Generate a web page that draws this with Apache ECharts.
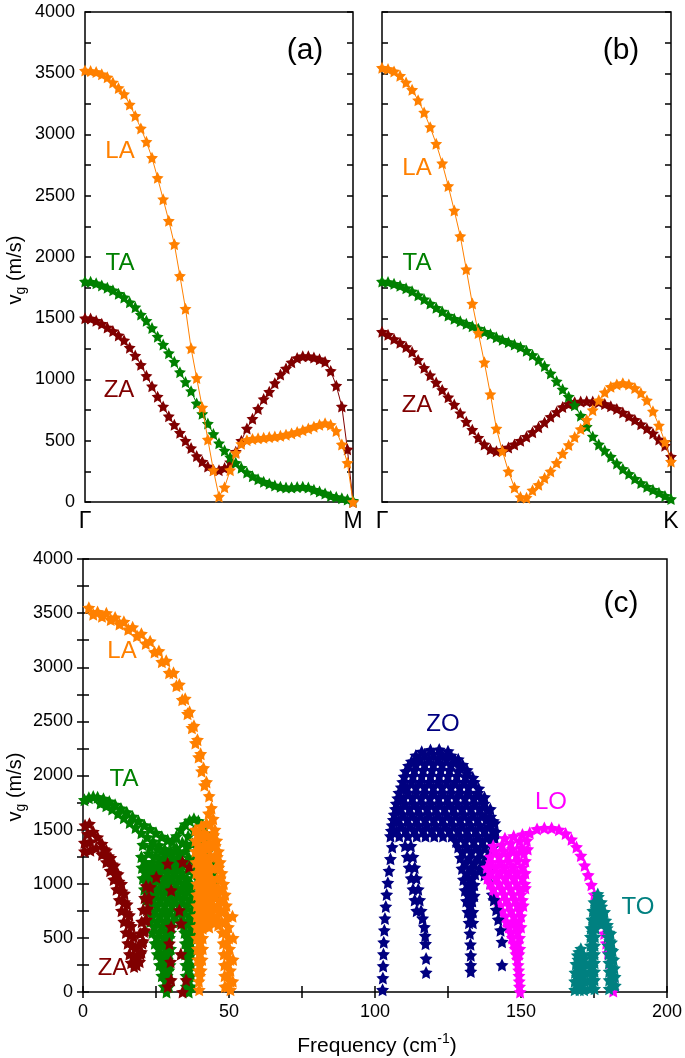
<!DOCTYPE html>
<html><head><meta charset="utf-8">
<script src="https://cdn.jsdelivr.net/npm/echarts@6.0.0/dist/echarts.min.js"></script>
<style>html,body{margin:0;padding:0;background:#fff}#c{width:685px;height:1058px}</style>
</head><body><div id="c"></div>
<script>
// ---------- DATA ----------
// Panels (a) Γ→M and (b) Γ→K : group velocity (m/s) at 49 evenly spaced k-points
const LA_a = [3522,3518,3510,3492,3467,3425,3380,3330,3245,3152,3050,2941,2810,2646,2472,2296,2105,1846,1578,1255,1012,772,510,259,45,120,260,400,475,505,515,520,525,530,535,540,550,560,572,585,600,615,630,643,630,580,470,320,0];
const TA_a = [1800,1797,1785,1768,1750,1728,1700,1670,1630,1590,1530,1480,1420,1350,1285,1215,1145,1060,980,905,805,720,640,555,480,420,365,320,280,240,210,185,165,150,135,125,118,118,122,125,118,100,85,70,50,40,30,20,10];
const ZA_a = [1500,1497,1480,1455,1425,1395,1360,1320,1260,1195,1120,1030,945,860,780,700,630,565,500,440,375,330,290,262,260,278,325,410,500,600,680,760,840,900,970,1040,1090,1140,1175,1190,1190,1180,1165,1145,1070,950,780,430,0];
const LA_b = [3545,3535,3515,3480,3425,3365,3280,3180,3060,2925,2765,2580,2380,2170,1900,1620,1380,1140,880,600,415,250,118,40,35,95,140,195,250,320,395,465,530,595,670,750,830,895,940,960,970,960,930,890,830,740,625,490,330];
const TA_b = [1800,1795,1782,1765,1745,1720,1688,1655,1620,1585,1555,1522,1495,1475,1455,1435,1415,1390,1370,1345,1325,1305,1285,1265,1235,1200,1160,1110,1050,985,920,860,790,705,615,535,470,420,370,315,270,230,190,155,125,100,75,50,25];
const ZA_b = [1390,1365,1330,1300,1265,1225,1160,1095,1035,975,915,855,795,725,655,590,525,470,430,415,425,445,470,500,533,570,610,650,695,735,775,800,815,820,822,820,815,800,782,760,730,700,670,635,600,560,510,460,370];
const kEnds_a = ['Γ','M'];
const kEnds_b = ['Γ','K'];

// Panel (c): [frequency (cm^-1), group velocity (m/s)]
const LA_c = [
[2,3550],[5,3510],[8,3500],[11,3460],[14,3420],[17,3370],[20,3310],[23,3240],[26,3150],[28.5,3060],[31,2950],[33,2840],[35,2710],[36.5,2590],[38,2460],[39.2,2330],[40.3,2200],[41.3,2070],[42.3,1940],[43.2,1810],
[3.5,3490],[6.5,3470],[9.5,3440],[12.5,3400],[15.5,3350],[18.5,3290],[21.5,3220],[24.5,3140],[27,3050],[29.5,2950],[32,2830],[34,2700],[35.8,2570],[37.3,2440],[38.5,2300],[39.6,2170],[40.6,2040],[41.6,1910],
[44,1700],[44.6,1600],[45.2,1500],[45.8,1400],[46.4,1300],[47,1200],[47.6,1100],[48.2,1000],[48.7,900],[49.1,800],[49.5,700],[49.8,600],[50,500],[50.2,400],[50.4,300],[50.5,200],[50.5,100],[50.5,20],
[43,1650],[43.5,1550],[44,1450],[44.5,1350],[45,1250],[45.5,1150],[46,1050],[46.5,950],[47,850],[47.3,750],[47.5,650],[47.7,550],[48,450],[48.2,350],[48.4,250],[48.5,150],[48.6,50],
[51.2,700],[51.4,500],[51.4,300],[51.3,100],
[38.5,1500],[40.5,1530],[42.3,1560],[38.5,1400],[40.5,1420],[42.5,1440],[38.5,1300],[40.5,1300],[42.5,1320],
[38.7,1200],[40.7,1200],[42.7,1200],[38.8,1100],[40.8,1100],[42.8,1100],
[39,1000],[41,1000],[43,1000],[45,980],[39,900],[41,900],[43,900],[45,880],[39,800],[41,800],[43,800],[45,780],
[39,700],[41,700],[43,680],[45,660],[39,600],[41,590],[43.2,600],
[39,500],[41,500],[39.2,400],[41,400],[39.3,300],[40.8,300],[39.5,200],[40.5,200],[39.7,100],[39.8,20],
[39.5,1450],[41.5,1470],[39.7,1350],[41.7,1360],[43.5,1380],[39.8,1250],[41.8,1250],[43.8,1260],[39.9,1150],[41.9,1150],[43.9,1150],
[40,1050],[42,1050],[44,1050],[40,950],[42,950],[44,930],[46,920],[40,850],[42,850],[44,840],[46,800],[40,750],[42,750],[44,730],[46,700],
[40,650],[42,640],[44.2,650],[46.3,620],[40,550],[40,450],[40,350],[40,250],[40,150],
[49.2,450],[49.4,350],[49.5,250],[49.5,150],[49.5,50],[49,550],[48.6,650],[48.3,750],[47.9,850],[47.5,950],[47,1050],[46.5,1150],[46,1250],[45.3,1350],[44.8,1450]
];
const TA_c = [
[0.5,1775],[2,1795],[3.5,1805],[5,1800],[7,1785],[9,1760],[11,1730],[13,1695],[15,1660],[17,1620],[19,1580],[21,1540],[23,1505],[25,1470],[27,1435],[29,1405],[30.5,1390],[32,1440],[33.5,1500],[35,1550],[36.5,1585],[38,1600],[39.5,1580],[41,1530],[42.3,1460],
[6,1745],[8,1720],[10,1690],[12,1650],[14,1610],[16,1565],[18,1520],[20,1470],[22,1430],[24,1390],[26,1355],[28,1320],[30,1300],[32,1330],[34,1380],[36,1440],[38,1490],[40,1470],[42,1380],
[20.5,1360],[23,1340],[25.5,1320],[28,1290],[30.5,1270],[33,1290],[35.5,1350],
[20,1250],[22.5,1280],[25,1260],[27.5,1240],[30,1220],[32.5,1240],[35,1300],[37.5,1370],[40,1360],[42.5,1290],[44,1200],
[20.2,1150],[22.7,1150],[25.2,1150],[27.7,1150],[30.2,1150],[32.7,1150],[35.2,1180],[37.7,1230],[40.2,1250],[42.7,1180],[44.5,1100],
[20.5,1050],[23,1050],[25.5,1050],[28,1050],[30.5,1050],[33,1050],[35.5,1050],[38,1100],[40.5,1120],[43,1060],[45,1000],
[21,950],[23.5,950],[26,950],[28.5,950],[31,950],[33.5,950],[36,950],[38.5,980],[41,990],[43.5,950],[45.3,900],
[21.6,850],[24,850],[26.5,850],[29,850],[31.5,850],[34,850],[36.5,850],[39,860],[41.5,860],[44,850],
[22.3,750],[24.8,750],[27.3,750],[29.8,750],[32.3,750],[34.8,750],[37.2,750],[39.5,750],[42,780],
[23,650],[25.5,650],[28,650],[30.5,650],[33.2,650],[35.6,650],[37.8,650],
[23.8,550],[26.2,550],[28.6,550],[30,550],[34.8,550],[36.5,550],[37.8,550],
[24.6,450],[26.9,450],[29.1,450],[35,450],[36.8,450],
[25.4,350],[27.6,350],[29.5,350],[35,350],[37,350],
[26.2,250],[28.2,250],[29.8,250],[35.2,250],[37,250],
[27,150],[28.8,150],[35.3,150],[37,150],
[27.8,50],[29.4,50],[35.4,50],[37,50],[28.6,0],[36.2,0],
[21.3,1200],[23.8,1200],[26.3,1200],[28.8,1200],[31.3,1190],[33.8,1210],[36.3,1240],[38.8,1300],[41.3,1300],[43.3,1240],
[21.5,1100],[24,1100],[26.5,1100],[29,1100],[31.5,1100],[34,1100],[36.5,1120],[39,1170],[41.5,1180],[43.8,1130],
[22,1000],[24.5,1000],[27,1000],[29.5,1000],[32,1000],[34.5,1000],[37,1000],[39.5,1040],[42,1040],[44.3,1000],
[22.5,900],[25,900],[27.5,900],[30,900],[32.5,900],[35,900],[37.5,900],[40,920],[42.5,910],[44.8,880],
[23,800],[25.5,800],[28,800],[30.5,800],[33,800],[35.5,800],[38,800],[40.5,810],[43,810],
[23.8,700],[26.3,700],[28.8,700],[31.5,700],[34,700],[36.5,700],[38.5,710],
[24.5,600],[27,600],[29.3,600],[34.5,600],[36.8,600],
[25.3,500],[27.7,500],[29.6,500],[35.7,500],[37.4,500],
[26,400],[28.3,400],[30,400],[36,400],[37.5,400],
[26.8,300],[28.9,300],[36.2,300],[27.6,200],[29.4,200],[36.3,200],[28.3,100],[36.2,100]
];
const ZA_c = [
[0.7,1540],[2.2,1555],[1.5,1460],[3.5,1480],[5,1430],[0.5,1380],[2.5,1390],[0.5,1300],[2.5,1310],[4.5,1330],
[6.5,1370],[8,1310],[9.5,1240],[10.8,1170],[12,1090],[13.2,1000],[14.2,910],[15.1,810],[15.9,710],[16.6,610],[17.3,510],[17.9,410],[18.4,320],[18.4,250],
[6.5,1270],[8,1200],[9.3,1120],[10.5,1040],[11.5,950],[12.4,850],[13.2,750],[14,650],[14.7,550],[15.3,450],[15.9,350],[16.5,270],[17.5,235],
[7.2,1320],[8.7,1255],[10,1180],[11.2,1100],[12.3,1020],[13.3,930],[14.2,830],[15,730],[15.7,630],[16.4,530],[17,430],[17.5,330],
[19.4,280],[20,370],[20.6,470],[21.2,570],[21.7,670],[22.2,770],[22.6,870],[23,970],
[19.2,430],[19.6,540],[20.1,650],[20.6,760],[21.1,870],[21.6,980],
[19.7,350],[20.3,450],[20.9,560],[21.4,660],[21.9,760],[22.3,860],
[25.1,1063],[29,1186],[30.2,940],[34.1,1201],[36.4,1155],[33,756],[33.6,633],[30.2,602],[29.6,449],[30.2,111],[35.3,111],[34.1,0],[29,50],[33.5,350],[30,280]
];
const ZO_c = [
[116,2220],[119,2235],[122,2240],[125,2225],
[112.5,2130],[115.5,2150],[118.5,2150],[121.5,2150],[124.5,2150],[127.5,2140],[130,2100],
[110.5,2040],[113.5,2050],[116.5,2050],[119.5,2050],[122.5,2050],[125.5,2050],[128.5,2040],[131.5,2020],[133.5,1980],
[109.5,1940],[112.5,1940],[115.5,1940],[118.5,1940],[121.5,1940],[124.5,1940],[127.5,1940],[130.5,1940],[133.5,1930],[135.5,1880],
[108.2,1840],[111.2,1840],[114.2,1840],[117.2,1840],[120.2,1840],[123.2,1840],[126.2,1840],[129.2,1840],[132.2,1840],[135.2,1840],[137.5,1800],
[107.3,1740],[110.3,1740],[113.3,1740],[116.3,1740],[119.3,1740],[122.3,1740],[125.3,1740],[128.3,1740],[131.3,1740],[134.3,1740],[137.3,1740],[139.5,1690],
[106.6,1640],[109.6,1640],[112.6,1640],[115.6,1640],[118.6,1640],[121.6,1640],[124.6,1640],[127.6,1640],[130.6,1640],[133.6,1640],[136.6,1640],[139.6,1620],[141,1560],
[105.9,1540],[108.9,1540],[111.9,1540],[114.9,1540],[117.9,1540],[120.9,1540],[123.9,1540],[126.9,1540],[129.9,1540],[132.9,1540],[135.9,1540],[138.9,1530],[141.3,1480],
[105.3,1440],[108.3,1440],[111.3,1440],[114.3,1440],[117.3,1440],[120.3,1440],[123.3,1440],[126.3,1440],[129.3,1440],[132.3,1440],[135.3,1440],[138.3,1440],[141,1420],
[128.5,1340],[131.5,1340],[134.5,1340],[137.5,1340],[140.5,1340],
[129.3,1240],[132.3,1240],[135.3,1240],[138.3,1240],
[129.8,1140],[132.8,1140],[135.8,1140],[138.8,1120],
[130.3,1040],[133,1040],[139.5,1010],[130.8,940],[133.2,940],[140.2,900],
[131.3,840],[133.3,840],[131.8,740],[133.5,740],[132.2,640],[133.5,640],[132.5,540],[132.7,440],[132.8,340],[132.8,250],[132.8,190],
[114,2185],[117,2195],[120,2200],[123,2195],[126,2185],[128.5,2150],
[111.5,2090],[114,2100],[117,2100],[120,2100],[123,2100],[126,2095],[129,2080],[131.5,2050],
[110,1990],[113,1995],[116,1995],[119,1995],[122,1995],[125,1995],[128,1995],[131,1990],[134,1940],
[109,1890],[111,1890],[114,1890],[117,1890],[120,1890],[123,1890],[126,1890],[129,1890],[132,1890],
[107.8,1790],[109.8,1790],[112.8,1790],[115.8,1790],[118.8,1790],[121.8,1790],[124.8,1790],[127.8,1790],[130.8,1790],[133.8,1790],[136.5,1780],
[107,1690],[108.8,1690],[111.8,1690],[114.8,1690],[117.8,1690],[120.8,1690],[123.8,1690],[126.8,1690],[129.8,1690],[132.8,1690],[135.8,1690],[138.5,1680],
[106.3,1590],[108.1,1590],[111.1,1590],[114.1,1590],[117.1,1590],[120.1,1590],[123.1,1590],[126.1,1590],[129.1,1590],[132.1,1590],[135.1,1590],[138.1,1590],[140.5,1580],
[105.6,1490],[107.4,1490],[110.4,1490],[113.4,1490],[116.4,1490],[119.4,1490],[122.4,1490],[125.4,1490],[128.4,1490],[131.4,1490],[134.4,1490],[137.4,1490],[140.3,1490],
[127.8,1390],[130.8,1390],[133.8,1390],[136.8,1390],[139.8,1390],[130,1290],[133,1290],[136,1290],[139.3,1290],
[131,1190],[134,1190],[137,1190],[131.5,1090],[134.3,1090],[137.5,1080],[131.8,990],[134,990],[132,890],[134,890],[132.5,790],[132.8,690],
[102.6,20],[102.7,130],[102.8,240],[102.9,350],[103,460],[103.2,570],[103.4,680],[103.7,790],[104,900],[104.4,1010],[104.8,1120],[105.3,1230],[105.9,1340],
[110.3,1350],[111,1250],[111.7,1150],[112.4,1050],[113,950],[113.6,850],[114.3,750],
[112.3,1350],[113,1250],[113.6,1150],[114.2,1050],[114.8,950],[115.3,850],[115.8,750],[116.3,680],
[116.9,600],[117.2,520],[117.3,445],[117.5,310],[117.5,180]
];
const ZO_edge_c = [[140.7,850],[141.5,760],[142.2,670],[143,571],[143.5,464],[143.5,249]];
const LO_c = [
[153,1470],[155.5,1505],[158,1515],[160.5,1515],[163,1500],[165.3,1465],[167.3,1410],[169,1340],[170.5,1260],[171.8,1170],[173,1080],[174.1,990],[175.1,900],[176,810],[176.9,720],[177.7,630],[178.5,540],[179.2,450],[179.8,360],[180.4,270],[180.9,180],[181.3,90],[181.6,10],
[140.5,1350],[143.5,1360],[146.5,1375],[149.5,1395],[152,1400],[144.5,1420],[147.5,1440],[150.5,1455],
[139.5,1250],[142.5,1250],[145.5,1260],[148.5,1270],[151,1280],
[138.3,1150],[141.3,1150],[144.3,1150],[147.3,1150],[150.5,1150],
[138.5,1050],[141.5,1050],[144.5,1050],[147.5,1050],[150.5,1050],
[140.5,950],[143.5,950],[146.5,950],[149.5,950],[151.5,960],
[142,850],[145,850],[148,850],[150.5,850],
[143.5,750],[146.5,750],[149.5,750],
[145,650],[147.3,650],[149.3,650],
[146.5,550],[148.8,550],[147.5,450],[149,450],[148.3,350],[149.3,350],[149,250],[149.3,150],[149.5,50],[149.7,0],
[141,1300],[144,1305],[147,1320],[150,1330],[152.3,1320],
[139.8,1200],[142.8,1200],[145.8,1205],[148.8,1210],[151.5,1210],
[139.8,1100],[142.8,1100],[145.8,1100],[148.8,1100],[151.5,1100],
[139.5,1000],[142.5,1000],[145.5,1000],[148.5,1000],[151.3,1000],
[141.3,900],[144.3,900],[147.3,900],[150,900],
[143,800],[146,800],[148.8,800],[150.8,800],
[144.5,700],[147.5,700],[150,700],
[145.8,600],[148.2,600],[150,600],
[147,500],[149.5,500],[148,400],[149.6,400],[148.8,300],[149.2,200],[149.4,100]
];
const TO_c = [
[176.3,905],[175,830],[177.5,830],
[174.6,750],[176.6,750],[178.6,740],[174.3,670],[176.3,670],[179,660],
[173.9,590],[175.5,590],[179.5,590],[180.7,540],[173.8,510],[175.3,510],[179.7,510],[181,460],
[173.8,430],[175.2,430],[179.8,430],[181.4,380],[173.8,350],[175.2,350],[180,350],[181.7,300],
[173.7,270],[175.2,270],[180.1,270],[182,220],[173.7,190],[175.2,190],[180.2,190],[182.2,140],
[173.7,110],[175.2,110],[180.2,110],[182.3,60],[173.7,30],[175.2,30],[180.2,30],
[176.5,880],[175.8,790],[177.6,790],[175.5,710],[177.7,705],[175.2,630],[177.4,625],[179.6,620],
[174.5,550],[180.1,550],[174.5,470],[180.4,470],[174.5,390],[180.9,390],[174.5,310],[181,310],
[174.4,230],[181.1,230],[174.4,150],[181.2,150],[174.4,70],[181.3,70],
[170.5,400],[169.3,340],[171.5,340],[168.8,260],[170.6,260],[172,260],[168.5,180],[170.3,180],[171.8,180],
[168.4,100],[170.2,100],[171.7,100],[168.4,20],[170.1,20],[171.6,20],
[169.8,370],[171,300],[169.5,300],[169.7,220],[171.2,220],[169.4,140],[171,140],[169.4,60],[170.9,60]
];

// ---------- STYLE ----------
const FONT = '"Liberation Sans", Arial, Helvetica, sans-serif';
const C = {LA:'#FF8000', TA:'#008000', ZA:'#800000', ZO:'#000080', LO:'#FF00FF', TO:'#008080'};
// fat five-pointed star (inner/outer radius 0.5)
const STAR = 'path://M50,0L64.69,29.77L97.55,34.55L73.78,57.73L79.39,90.45L50,75L20.61,90.45L26.22,57.73L2.45,34.55L35.31,29.77Z';
const tick = {show:true, inside:true, length:6, lineStyle:{color:'#000', width:1.5}};

function yAx(grid, showLabel, pos){
  return {type:'value', gridIndex:grid, min:0, max:4000, interval:250, position:pos,
    axisLine:{show:false}, axisTick:tick, splitLine:{show:false},
    axisLabel:{show:showLabel, formatter:v => v % 500 === 0 ? String(v) : '', fontSize:18, color:'#000', fontFamily:FONT, margin:10}};
}
function kAx(grid, ends){
  return {type:'value', gridIndex:grid, min:0, max:48, interval:48,
    axisLine:{show:false}, axisTick:{show:false}, splitLine:{show:false},
    axisLabel:{formatter:v => v === 0 ? ends[0] : ends[1], fontSize:23, color:'#000', fontFamily:FONT, margin:8, showMinLabel:true, showMaxLabel:true}};
}
function lineS(xi, yi, vals, color, z){
  return {type:'line', xAxisIndex:xi, yAxisIndex:yi, data:vals.map((v,i)=>[i,v]), symbol:STAR, symbolSize:12,
    showSymbol:true, showAllSymbol:true, lineStyle:{color, width:1}, itemStyle:{color}, z, clip:true, silent:true};
}
function scat(arr, color, z){
  return {type:'scatter', xAxisIndex:2, yAxisIndex:4, data:arr, symbol:STAR, symbolSize:13, itemStyle:{color, opacity:1}, z, clip:true, silent:true};
}
function txt(x, y, text, color, size){
  return {type:'text', x, y, z:100, style:{text, fill:color, font:size+'px '+FONT, textAlign:'center', verticalAlign:'middle', textVerticalAlign:'middle'}};
}
const mctx = document.createElement('canvas').getContext('2d');
function tw(t, size){ mctx.font = size + 'px ' + FONT; return mctx.measureText(t).width; }

function yTitle(cx, cy){
  const s = 20, ss = 14;
  const w1 = tw('v', s), w2 = tw('g', ss), w3 = tw(' (m/s)', s);
  const x0 = -(w1 + w2 + w3) / 2;
  const st = (t, sz) => ({text:t, fill:'#000', font:sz+'px '+FONT, textAlign:'left', verticalAlign:'middle', textVerticalAlign:'middle'});
  return {type:'group', x:cx, y:cy, rotation:Math.PI/2, z:100, children:[
    {type:'text', x:x0, y:0, style:st('v', s)},
    {type:'text', x:x0 + w1, y:6, style:st('g', ss)},
    {type:'text', x:x0 + w1 + w2, y:0, style:st(' (m/s)', s)}
  ]};
}
function xTitle(cx, cy){
  const s = 21, ss = 14;
  const w1 = tw('Frequency (cm', s), w2 = tw('-1', ss), w3 = tw(')', s);
  const x0 = cx - (w1 + w2 + w3) / 2;
  const st = (t, sz) => ({text:t, fill:'#000', font:sz+'px '+FONT, textAlign:'left', verticalAlign:'middle', textVerticalAlign:'middle'});
  return {type:'group', z:100, children:[
    {type:'text', x:x0, y:cy, style:st('Frequency (cm', s)},
    {type:'text', x:x0 + w1, y:cy - 7, style:st('-1', ss)},
    {type:'text', x:x0 + w1 + w2, y:cy, style:st(')', s)}
  ]};
}

const gridStyle = {show:true, borderColor:'#000', borderWidth:1.5, backgroundColor:'transparent', containLabel:false};
const option = {
  animation:false,
  backgroundColor:'#fff',
  textStyle:{fontFamily:FONT},
  grid:[
    Object.assign({left:85, top:12, width:268, height:490}, gridStyle),
    Object.assign({left:382, top:12, width:289, height:490}, gridStyle),
    Object.assign({left:83, top:559, width:588, height:433}, gridStyle)
  ],
  xAxis:[
    kAx(0, kEnds_a),
    kAx(1, kEnds_b),
    {type:'value', gridIndex:2, min:0, max:200, interval:25, axisLine:{show:false}, axisTick:tick, splitLine:{show:false},
      axisLabel:{formatter:v => v % 50 === 0 ? String(v) : '', fontSize:18, color:'#000', fontFamily:FONT, margin:11, showMinLabel:true, showMaxLabel:true}},
    {type:'value', gridIndex:2, position:'top', min:0, max:200, interval:25, axisLine:{show:false}, axisTick:tick, splitLine:{show:false}, axisLabel:{show:false}}
  ],
  yAxis:[
    yAx(0, true, 'left'), yAx(0, false, 'right'),
    yAx(1, false, 'left'), yAx(1, false, 'right'),
    yAx(2, true, 'left'), yAx(2, false, 'right')
  ],
  series:[
    lineS(0, 0, ZA_a, C.ZA, 2),
    lineS(0, 0, TA_a, C.TA, 3),
    lineS(0, 0, LA_a, C.LA, 4),
    lineS(1, 2, ZA_b, C.ZA, 2),
    lineS(1, 2, TA_b, C.TA, 3),
    lineS(1, 2, LA_b, C.LA, 4),
    scat(TA_c, C.TA, 2),
    scat(ZA_c, C.ZA, 3),
    scat(LA_c, C.LA, 4),
    scat(ZO_c, C.ZO, 2),
    scat(LO_c, C.LO, 3),
    scat(ZO_edge_c, C.ZO, 4),
    scat(TO_c, C.TO, 5)
  ],
  graphic:[
    txt(305, 51, '(a)', '#000', 30),
    txt(120, 151, 'LA', C.LA, 24),
    txt(120, 263, 'TA', C.TA, 24),
    txt(119, 390, 'ZA', C.ZA, 24),
    txt(621, 51, '(b)', '#000', 30),
    txt(417, 168, 'LA', C.LA, 24),
    txt(417, 263, 'TA', C.TA, 24),
    txt(417, 405, 'ZA', C.ZA, 24),
    txt(621, 604, '(c)', '#000', 30),
    txt(122, 651, 'LA', C.LA, 24),
    txt(124, 779, 'TA', C.TA, 24),
    txt(113, 968, 'ZA', C.ZA, 24),
    txt(443, 724, 'ZO', C.ZO, 24),
    txt(551, 802, 'LO', C.LO, 24),
    txt(638, 907, 'TO', C.TO, 24),
    yTitle(15, 270),
    yTitle(15, 787),
    xTitle(377, 1046)
  ]
};
const chart = echarts.init(document.getElementById('c'), null, {renderer:'canvas'});
chart.setOption(option);
</script></body></html>
